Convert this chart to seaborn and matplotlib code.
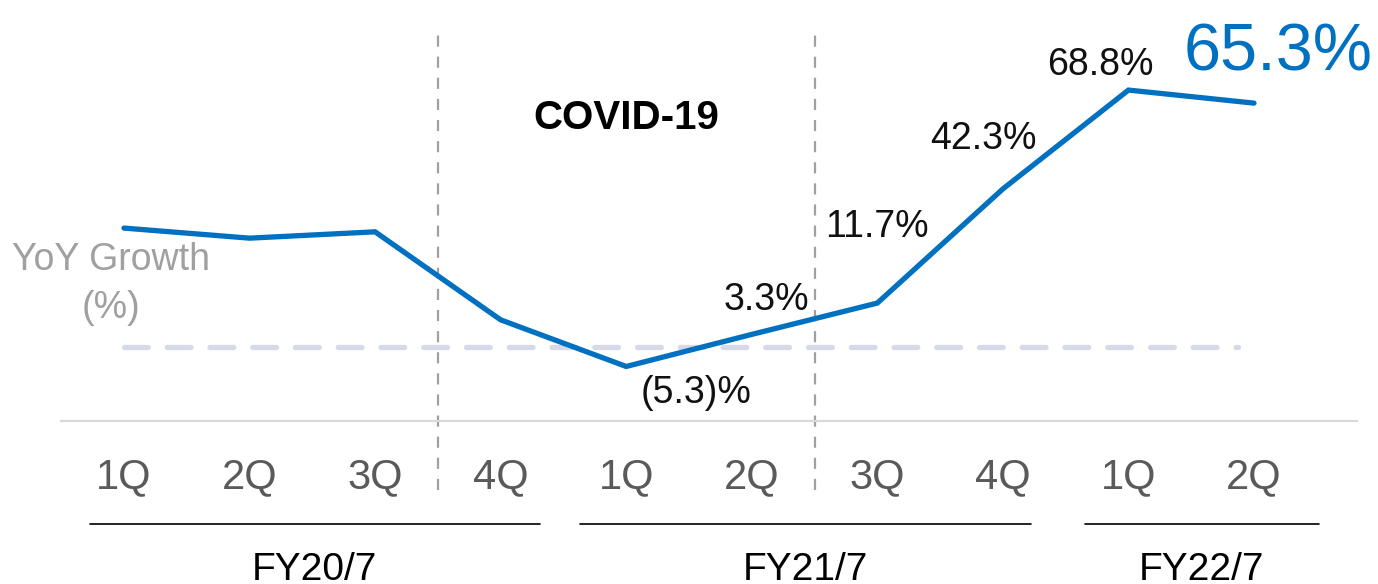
import matplotlib
matplotlib.use("Agg")
import matplotlib.pyplot as plt
import seaborn as sns
import pandas as pd

# ---- data ----
quarters = ["1Q", "2Q", "3Q", "4Q", "1Q", "2Q", "3Q", "4Q", "1Q", "2Q"]
growth = [31.8, 29.1, 30.8, 7.2, -5.3, 3.3, 11.7, 42.3, 68.8, 65.3]
value_labels = [None, None, None, None, "(5.3)%", "3.3%", "11.7%", "42.3%", "68.8%", "65.3%"]
fiscal_years = ["FY20/7", "FY21/7", "FY22/7"]
fy_spans = [(-0.27, 3.31), (3.63, 7.22), (7.65, 9.52)]
covid_bounds = [2.5, 5.5]

df = pd.DataFrame({"idx": range(len(growth)), "growth": growth})

sns.set_theme(style="white")
plt.rcParams["font.family"] = ["Liberation Sans", "DejaVu Sans"]

W, H = 1378, 584
fig = plt.figure(figsize=(W / 100, H / 100), dpi=100)
ax_bottom_px = 421
ax = fig.add_axes([0, (H - ax_bottom_px) / H, 1, ax_bottom_px / H])

px_per_x = 125.56
px_per_y = 3.73
x0_px = 124
y0_px = 346.7
ax.set_xlim(-x0_px / px_per_x, 9 + (W - 1254) / px_per_x)
ax.set_ylim(-(ax_bottom_px - y0_px) / px_per_y, y0_px / px_per_y)

# zero reference dashed line
ax.plot([0, 8.87], [0, 0], color="#d5d9e8", lw=3.8, dashes=(4.5, 3.6),
        solid_capstyle="round", dash_capstyle="round", zorder=1)

# COVID vertical dashed lines
for xb in covid_bounds:
    ax.axvline(xb, ymin=(ax_bottom_px - 490) / ax_bottom_px, ymax=(ax_bottom_px - 31) / ax_bottom_px,
               color="#a0a0a0", lw=1.6, dashes=(5, 4.5), clip_on=False, zorder=1)

# main line
sns.lineplot(data=df, x="idx", y="growth", ax=ax, color="#0070c0", lw=3.8,
             solid_capstyle="round", solid_joinstyle="miter", zorder=3)

# value labels (offsets in pixels)
offsets = {4: (70, -23), 5: (15, 38), 6: (0, 80), 7: (-20, 54), 8: (-28, 29), 9: (24, 57)}
for i, lab in enumerate(value_labels):
    if lab is None:
        continue
    big = (i == len(growth) - 1)
    ax.annotate(lab, (i, growth[i]), xytext=offsets[i], textcoords="offset pixels",
                ha="center", va="center_baseline",
                fontsize=48 if big else 27,
                color="#0070c0" if big else "#111111", zorder=4)

# COVID label
ax.text(4.0, 62.5, "COVID-19", ha="center", va="center_baseline", fontsize=29,
        fontweight="bold", color="black")

# y label
ax.text(-0.1, 16.8, "YoY Growth\n(%)", ha="center", va="center", fontsize=27,
        color="#a0a0a0", linespacing=1.4)

# axes styling
for s in ["top", "right", "left"]:
    ax.spines[s].set_visible(False)
ax.spines["bottom"].set_color("#d9d9d9")
ax.spines["bottom"].set_linewidth(1.6)
ax.spines["bottom"].set_bounds(-0.5, 9.82)
ax.set_yticks([])
ax.set_xticks(range(len(quarters)))
ax.set_xticklabels(quarters, fontsize=30, color="#5a5a5a")
ax.tick_params(axis="x", length=0, pad=26)
ax.set_xlabel("")
ax.set_ylabel("")

# fiscal-year group lines and labels
tr = ax.get_xaxis_transform()
line_y = (ax_bottom_px - 524) / ax_bottom_px
lab_y = (ax_bottom_px - 570) / ax_bottom_px
for fy, (a, b) in zip(fiscal_years, fy_spans):
    ax.plot([a, b], [line_y, line_y], transform=tr, color="black", lw=1.2, clip_on=False)
    ax.text((a + b) / 2, lab_y, fy, transform=tr, ha="center", va="center", fontsize=28,
            color="black", clip_on=False)

fig.savefig("out.png", dpi=100)
